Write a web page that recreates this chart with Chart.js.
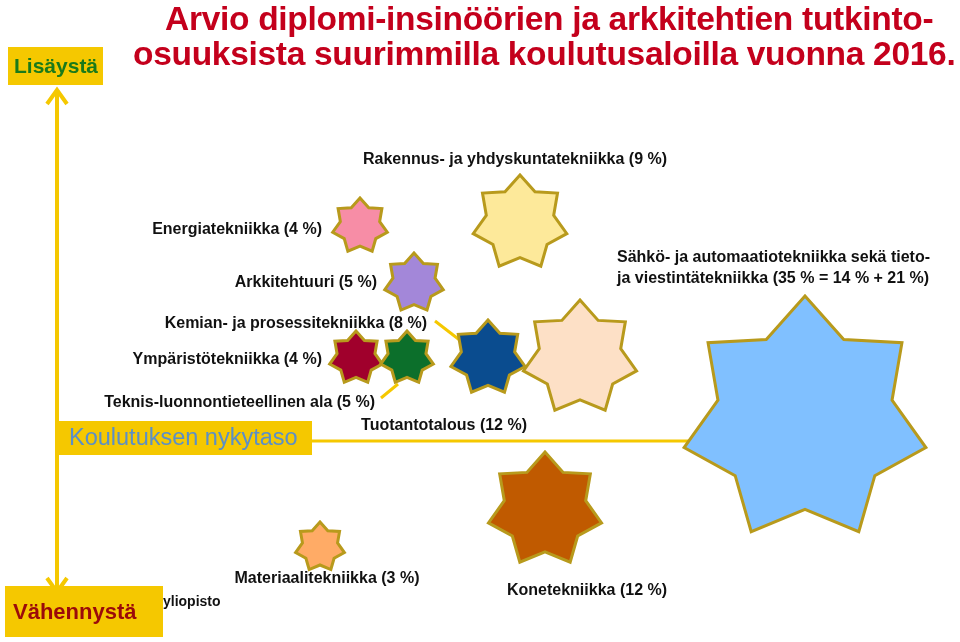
<!DOCTYPE html>
<html><head><meta charset="utf-8">
<script src="https://cdn.jsdelivr.net/npm/chart.js@4"></script>
<style>
body{margin:0;background:#fff;font-family:"Liberation Sans",Arial,sans-serif}
#wrap{position:relative;width:960px;height:642px}
canvas{position:absolute;left:0;top:0}
.t{position:absolute;color:#c4001c;font-weight:bold;font-size:33.5px;white-space:nowrap;letter-spacing:-0.3px}
</style></head><body>
<div id="wrap">
<canvas id="c" width="960" height="642"></canvas>
<div class="t" style="left:165px;top:0px">Arvio diplomi-insinöörien ja arkkitehtien tutkinto-</div>
<div class="t" style="left:133px;top:35px">osuuksista suurimmilla koulutusaloilla vuonna 2016.</div>
</div>
<script>
// fields and their shares (%)
const fields = ['Rakennus- ja yhdyskuntatekniikka','Energiatekniikka','Arkkitehtuuri','Kemian- ja prosessitekniikka',
  'Ympäristötekniikka','Teknis-luonnontieteellinen ala','Tuotantotalous','Sähkö- ja automaatiotekniikka sekä tieto- ja viestintätekniikka',
  'Konetekniikka','Materiaalitekniikka'];
const shares = [9, 4, 5, 8, 4, 5, 12, 35, 12, 3];
// position on the page: horizontal spread and change (up = lisäystä)
const posX = [520, 360, 414, 488, 356, 407, 580, 805, 545, 320];
const posY = [223, 226, 283, 358, 358, 358, 358, 420, 510, 547];
const starSize = [48, 28, 30, 38, 27, 27, 58, 124, 58, 25];
const colors = ['#fde99a','#f78da6','#a387d9','#0a4c8f','#a0002c','#0c6f2b','#fde0c6','#80c0ff','#c05a00','#ffab66'];

const labels = [
  {t:['Rakennus- ja yhdyskuntatekniikka (9 %)'], x:515, y:160, a:'center'},
  {t:['Energiatekniikka (4 %)'], x:322, y:230, a:'right'},
  {t:['Arkkitehtuuri (5 %)'], x:377, y:283, a:'right'},
  {t:['Kemian- ja prosessitekniikka (8 %)'], x:427, y:324, a:'right'},
  {t:['Ympäristötekniikka (4 %)'], x:322, y:360, a:'right'},
  {t:['Teknis-luonnontieteellinen ala (5 %)'], x:375, y:403, a:'right'},
  {t:['Tuotantotalous (12 %)'], x:527, y:426, a:'right'},
  {t:['Sähkö- ja automaatiotekniikka sekä tieto-','ja viestintätekniikka (35 % = 14 % + 21 %)'], x:617, y:258, a:'left'},
  {t:['Materiaalitekniikka (3 %)'], x:327, y:579, a:'center'},
  {t:['Konetekniikka (12 %)'], x:587, y:591, a:'center'},
];
const gold = '#f5c800';

function star(ctx, cx, cy, R, fill){
  ctx.beginPath();
  for(let i=0;i<14;i++){
    const r = i%2 ? R*0.72 : R;
    const a = -Math.PI/2 + i*Math.PI/7;
    const px = cx + r*Math.cos(a), py = cy + r*Math.sin(a);
    i ? ctx.lineTo(px,py) : ctx.moveTo(px,py);
  }
  ctx.closePath();
  ctx.fillStyle = fill; ctx.fill();
  ctx.lineWidth = 3; ctx.strokeStyle = '#b89a1c'; ctx.stroke();
}
function box(ctx,x,y,w,h,txt,col,font,tx){
  ctx.fillStyle = gold; ctx.fillRect(x,y,w,h);
  ctx.fillStyle = col; ctx.font = font;
  ctx.textAlign='left'; ctx.textBaseline='middle';
  ctx.fillText(txt, x+tx, y+h/2+1);
}

const deco = {
  id:'deco',
  beforeDatasetsDraw(chart){
    const ctx = chart.ctx; ctx.save();
    ctx.strokeStyle = gold; ctx.lineWidth = 4;
    ctx.beginPath(); ctx.moveTo(57,92); ctx.lineTo(57,590); ctx.stroke();
    ctx.beginPath(); ctx.moveTo(47,104); ctx.lineTo(57,90); ctx.lineTo(67,104); ctx.stroke();
    ctx.beginPath(); ctx.moveTo(47,578); ctx.lineTo(57,592); ctx.lineTo(67,578); ctx.stroke();
    ctx.lineWidth = 3;
    ctx.beginPath(); ctx.moveTo(312,441); ctx.lineTo(880,441); ctx.stroke();
    ctx.beginPath(); ctx.moveTo(435,321); ctx.lineTo(470,348); ctx.stroke();
    ctx.beginPath(); ctx.moveTo(381,398); ctx.lineTo(398,384); ctx.stroke();
    ctx.restore();
  },
  afterDatasetsDraw(chart){
    const ctx = chart.ctx; ctx.save();
    chart.getDatasetMeta(0).data.forEach((p,i)=>star(ctx,p.x,p.y,starSize[i],colors[i]));
    ctx.fillStyle = '#111'; ctx.font = 'bold 16px "Liberation Sans", Arial'; ctx.textBaseline='middle';
    labels.forEach(l=>{ ctx.textAlign=l.a; l.t.forEach((s,k)=>ctx.fillText(s,l.x,l.y+k*21)); });
    ctx.font = 'bold 14px "Liberation Sans", Arial';
    ctx.textAlign='left'; ctx.fillText('yliopisto',163,602);
    box(ctx,8,47,95,38,'Lisäystä','#1a7a1a','bold 21px "Liberation Sans", Arial',6);
    box(ctx,58,421,254,34,'Koulutuksen nykytaso','#5b8fc7','23.5px "Liberation Sans", Arial',11);
    box(ctx,5,586,158,51,'Vähennystä','#9b0a0a','bold 22px "Liberation Sans", Arial',8);
    ctx.restore();
  }
};

new Chart(document.getElementById('c'), {
  type:'scatter',
  data:{ labels: fields, datasets:[{ data: posX.map((x,i)=>({x, y:posY[i], share:shares[i]})), pointRadius:0, backgroundColor:colors }]},
  options:{
    responsive:false, animation:false, layout:{padding:0},
    plugins:{legend:{display:false}, tooltip:{enabled:false}},
    scales:{
      x:{type:'linear', min:0, max:960, display:false},
      y:{type:'linear', min:0, max:642, reverse:true, display:false}
    }
  },
  plugins:[deco]
});
</script>
</body></html>
